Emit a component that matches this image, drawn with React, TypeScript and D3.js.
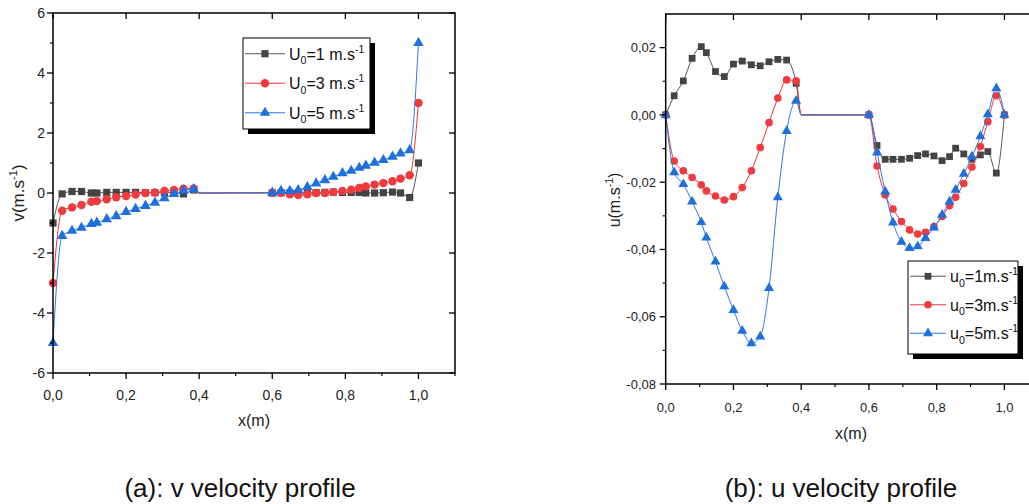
import React from "react";
import * as d3 from "d3";

// ---------------- data ----------------
const X_NEAR = [0, 0.025, 0.052, 0.078, 0.105, 0.12, 0.147, 0.173, 0.2, 0.226, 0.253, 0.279, 0.305, 0.331, 0.357, 0.385];
const X_FAR = [0.6, 0.624, 0.648, 0.671, 0.696, 0.72, 0.744, 0.767, 0.792, 0.816, 0.838, 0.856, 0.88, 0.904, 0.929, 0.951, 0.976, 1.0];
const WALL_X = 0.4; // line drops back to zero here (unmarked)

// (a) v velocity
const V1_NEAR = [-1, -0.03, 0.05, 0.05, 0.0, 0.0, 0.02, 0.02, 0.02, 0.02, 0.01, 0.01, 0.01, 0.01, -0.03, 0.1];
const V3_NEAR = [-3, -0.59, -0.48, -0.4, -0.29, -0.27, -0.21, -0.14, -0.1, -0.05, 0.0, 0.02, 0.07, 0.1, 0.14, 0.15];
const V5_NEAR = [-5, -1.43, -1.26, -1.16, -1.03, -0.99, -0.87, -0.77, -0.63, -0.53, -0.43, -0.32, -0.17, -0.03, 0.08, 0.13];
const V1_FAR = [0, 0.01, 0.0, 0.0, 0.0, 0.01, 0.02, 0.03, 0.02, 0.02, 0.02, 0.0, 0.0, 0.01, 0.03, 0.0, -0.15, 1.0];
const V3_FAR = [0.01, 0.01, -0.04, -0.07, -0.04, 0.0, 0.0, 0.03, 0.07, 0.11, 0.17, 0.22, 0.28, 0.33, 0.39, 0.48, 0.59, 3];
const V5_FAR = [0.01, 0.07, 0.07, 0.1, 0.2, 0.32, 0.43, 0.54, 0.66, 0.74, 0.84, 0.91, 1.01, 1.1, 1.21, 1.32, 1.43, 5];

// (b) u velocity
const U1_NEAR = [0, 0.0057, 0.0101, 0.0168, 0.0203, 0.0185, 0.0129, 0.0114, 0.0151, 0.016, 0.0149, 0.0146, 0.0158, 0.0165, 0.0163, 0.0094];
const U3_NEAR = [0, -0.0137, -0.0166, -0.0186, -0.0208, -0.0226, -0.0241, -0.0253, -0.0243, -0.0216, -0.0166, -0.0097, -0.0023, 0.005, 0.0104, 0.0101];
const U5_NEAR = [0, -0.0171, -0.0206, -0.0258, -0.0319, -0.0365, -0.0436, -0.051, -0.058, -0.0642, -0.0679, -0.0659, -0.0515, -0.0245, -0.0048, 0.0042];
const U1_FAR = [0, -0.0091, -0.0132, -0.0132, -0.0132, -0.0129, -0.0121, -0.0116, -0.0122, -0.0136, -0.0124, -0.0099, -0.0116, -0.0132, -0.0119, -0.0109, -0.0173, 0];
const U3_FAR = [0, -0.0152, -0.0238, -0.028, -0.0317, -0.0342, -0.0354, -0.0349, -0.0332, -0.0302, -0.027, -0.0245, -0.0204, -0.0155, -0.0094, -0.002, 0.0057, 0];
const U5_FAR = [0, -0.0112, -0.0228, -0.032, -0.0377, -0.0396, -0.0391, -0.0366, -0.0335, -0.0297, -0.0258, -0.0223, -0.0175, -0.0124, -0.0064, 0.0002, 0.0079, 0];

const SPEEDS = ["1", "3", "5"];

const X_MAJOR = [0, 0.2, 0.4, 0.6, 0.8, 1.0];
const X_MINOR = [0.1, 0.3, 0.5, 0.7, 0.9, 1.1];
const V_MAJOR = [-6, -4, -2, 0, 2, 4, 6];
const V_MINOR = [-5, -3, -1, 1, 3, 5];
const U_MAJOR = [-0.08, -0.06, -0.04, -0.02, 0, 0.02];
const U_MINOR = [-0.07, -0.05, -0.03, -0.01, 0.01];

const CAPTIONS = ["(a): v velocity profile", "(b): u velocity profile"];

// ---------------- styling ----------------
const FONT = "'Liberation Sans', Arial, Helvetica, sans-serif";
const COLORS = { black: "#444444", red: "#ef3b3f", blue: "#1f6fdd" };
const LINE_COLORS = { black: "#555555", red: "#ee3338", blue: "#2a78e4" };
type MarkerKind = "square" | "circle" | "triangle";
const MARKERS: MarkerKind[] = ["square", "circle", "triangle"];
const SERIES_KEYS: ("black" | "red" | "blue")[] = ["black", "red", "blue"];

const fmt = (spec: string) => {
  const f = d3.format(spec);
  return (v: number) => f(v).replace(".", ",").replace("\u2212", "-");
};

type Part = { t: string; k?: "sub" | "sup" };
function Rich({ parts, fs, ...rest }: any) {
  let cur = 0;
  return (
    <text fontSize={fs} fontFamily={FONT} {...rest}>
      {parts.map((p: Part, i: number) => {
        const target = p.k === "sub" ? fs * 0.3 : p.k === "sup" ? -fs * 0.42 : 0;
        const dy = target - cur;
        cur = target;
        return (
          <tspan key={i} dy={dy} fontSize={p.k ? fs * 0.66 : fs}>
            {p.t}
          </tspan>
        );
      })}
    </text>
  );
}

function markerPath(kind: MarkerKind, size: number) {
  const type = kind === "square" ? d3.symbolSquare : kind === "circle" ? d3.symbolCircle : d3.symbolTriangle;
  return d3.symbol().type(type).size(size)() as string;
}

type ChartProps = {
  plot: { x0: number; x1: number; y0: number; y1: number };
  yDomain: [number, number];
  yMajor: number[];
  yMinor: number[];
  yFmt: (v: number) => string;
  near: number[][];
  far: number[][];
  tickFs: number;
  xLabelBaseline: number;
  yLabelRight: number;
  xTitle: { x: number; y: number; fs: number };
  yTitle: { x: number; y: number; fs: number; parts: Part[] };
  legend: { x: number; y: number; w: number; h: number; rowH: number; fs: number; lineLen: number; label: (s: string) => Part[] };
  msize: { square: number; circle: number; triangle: number };
};

function Chart(p: ChartProps) {
  const { plot } = p;
  const x = d3.scaleLinear().domain([0, 1.1]).range([plot.x0, plot.x1]);
  const y = d3.scaleLinear().domain(p.yDomain).range([plot.y1, plot.y0]);
  const line = d3
    .line<[number, number]>()
    .x((d) => x(d[0]))
    .y((d) => y(d[1]))
    .curve(d3.curveMonotoneX);
  const xf = fmt(".1f");
  const L = p.legend;
  return (
    <g>
      {p.near.map((ysN, si) => {
        const ysF = p.far[si];
        const pts: [number, number][] = [
          ...X_NEAR.map((xv, i) => [xv, ysN[i]] as [number, number]),
          [WALL_X, 0],
          ...X_FAR.map((xv, i) => [xv, ysF[i]] as [number, number]),
        ];
        const marked: [number, number][] = [
          ...X_NEAR.map((xv, i) => [xv, ysN[i]] as [number, number]),
          ...X_FAR.map((xv, i) => [xv, ysF[i]] as [number, number]),
        ];
        const key = SERIES_KEYS[si];
        const kind = MARKERS[si];
        const mp = markerPath(kind, p.msize[kind]);
        return (
          <g key={si}>
            <path d={line(pts) as string} fill="none" stroke={LINE_COLORS[key]} strokeWidth={1} />
            {marked.map((d, i) => (
              <path key={i} d={mp} transform={`translate(${x(d[0])},${y(d[1])})`} fill={COLORS[key]} />
            ))}
          </g>
        );
      })}

      {/* frame */}
      <rect x={plot.x0} y={plot.y0} width={plot.x1 - plot.x0} height={plot.y1 - plot.y0} fill="none" stroke="#000" strokeWidth={1.5} />

      {/* x ticks */}
      {X_MAJOR.map((v) => (
        <g key={"xm" + v}>
          <line x1={x(v)} x2={x(v)} y1={plot.y1} y2={plot.y1 + 6} stroke="#000" strokeWidth={1.3} />
          <line x1={x(v)} x2={x(v)} y1={plot.y0} y2={plot.y0 + 6} stroke="#000" strokeWidth={1.3} />
          <text x={x(v)} y={p.xLabelBaseline} textAnchor="middle" fontSize={p.tickFs} fontFamily={FONT} fill="#222">
            {xf(v)}
          </text>
        </g>
      ))}
      {X_MINOR.map((v) => (
        <line key={"xn" + v} x1={x(v)} x2={x(v)} y1={plot.y1} y2={plot.y1 + 3} stroke="#000" strokeWidth={1.2} />
      ))}
      {/* y ticks */}
      {p.yMajor.map((v) => (
        <g key={"ym" + v}>
          <line x1={plot.x0 - 6} x2={plot.x0} y1={y(v)} y2={y(v)} stroke="#000" strokeWidth={1.3} />
          <line x1={plot.x1 - 6} x2={plot.x1} y1={y(v)} y2={y(v)} stroke="#000" strokeWidth={1.3} />
          <text x={p.yLabelRight} y={y(v) + p.tickFs * 0.36} textAnchor="end" fontSize={p.tickFs} fontFamily={FONT} fill="#222">
            {p.yFmt(v)}
          </text>
        </g>
      ))}
      {p.yMinor.map((v) => (
        <line key={"yn" + v} x1={plot.x0 - 3} x2={plot.x0} y1={y(v)} y2={y(v)} stroke="#000" strokeWidth={1.2} />
      ))}

      {/* axis titles */}
      <text x={p.xTitle.x} y={p.xTitle.y} textAnchor="middle" fontSize={p.xTitle.fs} fontFamily={FONT} fill="#222">
        x(m)
      </text>
      <Rich
        parts={p.yTitle.parts}
        fs={p.yTitle.fs}
        textAnchor="middle"
        fill="#222"
        transform={`translate(${p.yTitle.x},${p.yTitle.y}) rotate(-90)`}
      />

      {/* legend */}
      <rect x={L.x + 5} y={L.y + 5} width={L.w} height={L.h} fill="#000" />
      <rect x={L.x} y={L.y} width={L.w} height={L.h} fill="#fff" stroke="#000" strokeWidth={1} />
      {SPEEDS.map((s, i) => {
        const cy = L.y + L.rowH * (i + 0.5) + 1;
        const key = SERIES_KEYS[i];
        const kind = MARKERS[i];
        return (
          <g key={s}>
            <line x1={L.x + 2} x2={L.x + 2 + L.lineLen} y1={cy} y2={cy} stroke={LINE_COLORS[key]} strokeWidth={1} />
            <path d={markerPath(kind, p.msize[kind])} transform={`translate(${L.x + 2 + L.lineLen / 2},${cy})`} fill={COLORS[key]} />
            <Rich parts={L.label(s)} fs={L.fs} x={L.x + L.lineLen + 6} y={cy + L.fs * 0.36} fill="#111" />
          </g>
        );
      })}
    </g>
  );
}

export default function App() {
  return (
    <svg
      width={1029}
      height={504}
      viewBox="0 0 1029 504"
      style={{ position: "absolute", left: 0, top: 0, background: "#fff" }}
    >
      <rect x={0} y={0} width={1029} height={504} fill="#fff" />
      <Chart
        plot={{ x0: 53, x1: 455, y0: 13, y1: 373 }}
        yDomain={[-6, 6]}
        yMajor={V_MAJOR}
        yMinor={V_MINOR}
        yFmt={fmt("d")}
        near={[V1_NEAR, V3_NEAR, V5_NEAR]}
        far={[V1_FAR, V3_FAR, V5_FAR]}
        tickFs={14}
        xLabelBaseline={400}
        yLabelRight={45}
        xTitle={{ x: 254, y: 426, fs: 16 }}
        yTitle={{ x: 24, y: 193, fs: 17, parts: [{ t: "v(m.s" }, { t: "-1", k: "sup" }, { t: ")" }] }}
        legend={{
          x: 243,
          y: 38,
          w: 127,
          h: 91,
          rowH: 29.5,
          fs: 16,
          lineLen: 40,
          label: (s) => [{ t: "U" }, { t: "0", k: "sub" }, { t: "=" + s + " m.s" }, { t: "-1", k: "sup" }],
        }}
        msize={{ square: 52, circle: 56, triangle: 48 }}
      />
      <Chart
        plot={{ x0: 665.7, x1: 1038.3, y0: 14, y1: 384 }}
        yDomain={[-0.08, 0.03]}
        yMajor={U_MAJOR}
        yMinor={U_MINOR}
        yFmt={fmt(".2f")}
        near={[U1_NEAR, U3_NEAR, U5_NEAR]}
        far={[U1_FAR, U3_FAR, U5_FAR]}
        tickFs={13}
        xLabelBaseline={412}
        yLabelRight={656}
        xTitle={{ x: 851, y: 439, fs: 16 }}
        yTitle={{ x: 620, y: 200, fs: 16, parts: [{ t: "u(m.s" }, { t: "-1", k: "sup" }, { t: ")" }] }}
        legend={{
          x: 908,
          y: 261,
          w: 110,
          h: 93,
          rowH: 28.5,
          fs: 16,
          lineLen: 36,
          label: (s) => [{ t: "u" }, { t: "0", k: "sub" }, { t: "=" + s + "m.s" }, { t: "-1", k: "sup" }],
        }}
        msize={{ square: 46, circle: 46, triangle: 44 }}
      />
      {CAPTIONS.map((c, i) => (
        <text key={c} x={i === 0 ? 240 : 841} y={497} textAnchor="middle" fontSize={26} fontFamily={FONT} fill="#111">
          {c}
        </text>
      ))}
    </svg>
  );
}
